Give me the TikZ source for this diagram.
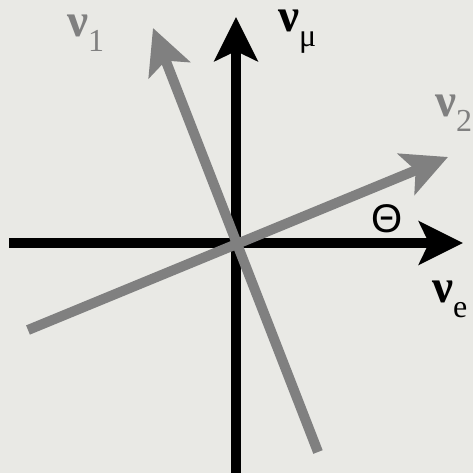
\documentclass[tikz,border=0pt]{standalone}
\usepackage{fontspec}
\setmainfont{Liberation Serif}
\newfontfamily\thetafont{Liberation Sans}
\usetikzlibrary{arrows.meta}
\definecolor{paper}{HTML}{E9E9E5}
\definecolor{mixgray}{HTML}{808080}
\newcommand{\nulabel}[1]{{\fontsize{47}{47}\selectfont\bfseries ν}\raisebox{-15pt}{\fontsize{32}{32}\selectfont #1}}
\tikzset{
  flavaxis/.style={line width=10pt, draw=black,
    -{Stealth[length=44pt, width=43pt, inset=10pt]}},
  massaxis/.style={line width=10pt, draw=mixgray,
    -{Stealth[length=45pt, width=44pt, inset=10pt]}},
  statelabel/.style={anchor=base west, inner sep=0pt, text=#1,
    text height=22pt, text depth=20pt},
  statelabel/.default=black,
}

\begin{document}
\begin{tikzpicture}[x=1pt, y=-1pt]
    \fill[paper] (0,0) rectangle (473,473);
    \useasboundingbox (0,0) rectangle (473,473);
    % flavour axes
    \coordinate (eleft) at (9,243);
    \coordinate (eright) at (463,243);
    \coordinate (mubot) at (236,474);
    \coordinate (mutop) at (236,17);
    \draw[flavaxis] (eleft) -- (eright);
    \draw[flavaxis] (mubot) -- (mutop);
    % mass axes, rotated by theta
    \coordinate (onetail) at (318,452);
    \coordinate (onetip) at (153,28);
    \coordinate (twotail) at (28,330);
    \coordinate (twotip) at (448,157);
    \draw[massaxis] (onetail) -- (onetip);
    \draw[massaxis] (twotail) -- (twotip);
    % labels
    \node[statelabel] (numu) at (278,32) {\nulabel{μ}};
    \node[statelabel] (nue) at (432,302) {\nulabel{e}};
    \node[statelabel=mixgray] (nuone) at (67,37) {\nulabel{1}};
    \node[statelabel=mixgray] (nutwo) at (435,117) {\nulabel{2}};
    \node[statelabel, text height=29pt, text depth=0pt] (theta) at (371,232) {\thetafont\fontsize{40}{40}\selectfont Θ};
\end{tikzpicture}
\end{document}
